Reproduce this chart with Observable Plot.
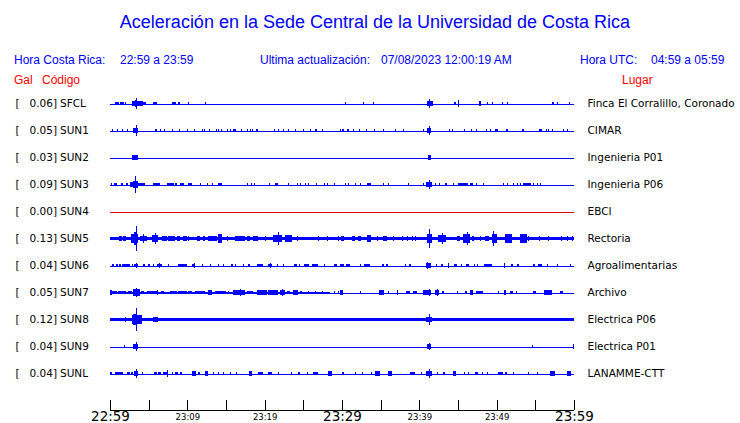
<!DOCTYPE html>
<html>
<head>
<meta charset="utf-8">
<script src="https://cdn.jsdelivr.net/npm/d3@7"></script>
<script src="https://cdn.jsdelivr.net/npm/@observablehq/plot@0.6"></script>
<style>
  html, body { margin: 0; padding: 0; background: #fff; }
  #wrap { position: relative; width: 740px; height: 423px; overflow: hidden; background: #fff; }
  .hd { position: absolute; font-family: "Liberation Sans", Arial, sans-serif; white-space: pre; line-height: 1; }
  .blue { color: #0000ff; }
  .red { color: #ff0000; }
  #wrap svg { display: block; background: transparent; }
</style>
</head>
<body>
<div id="wrap">
  <div id="plots"></div>
  <div class="hd blue" style="left:0;width:750px;text-align:center;top:12.5px;font-size:18px;">Aceleración en la Sede Central de la Universidad de Costa Rica</div>
  <div class="hd blue" style="left:14px;top:54px;font-size:12px;">Hora Costa Rica:</div>
  <div class="hd blue" style="left:120px;top:54px;font-size:12px;">22:59 a 23:59</div>
  <div class="hd blue" style="left:260px;top:54px;font-size:12px;">Ultima actualización:</div>
  <div class="hd blue" style="left:381px;top:54px;font-size:12px;">07/08/2023 12:00:19 AM</div>
  <div class="hd blue" style="left:580px;top:54px;font-size:12px;">Hora UTC:</div>
  <div class="hd blue" style="left:651px;top:54px;font-size:12px;">04:59 a 05:59</div>
  <div class="hd red" style="left:14px;top:74px;font-size:12px;">Gal</div>
  <div class="hd red" style="left:42px;top:74px;font-size:12px;">Código</div>
  <div class="hd red" style="left:622px;top:74px;font-size:12px;">Lugar</div>
</div>
<script>
// ---- station metadata ----
const codes  = ["SFCL","SUN1","SUN2","SUN3","SUN4","SUN5","SUN6","SUN7","SUN8","SUN9","SUNL"];
const peakGal = [0.06, 0.05, 0.03, 0.09, 0.00, 0.13, 0.04, 0.05, 0.12, 0.04, 0.04];
const places = ["Finca El Corralillo, Coronado","CIMAR","Ingenieria P01","Ingenieria P06","EBCI","Rectoria","Agroalimentarias","Archivo","Electrica P06","Electrica P01","LANAMME-CTT"];

// ---- time axis (minutes after 22:59 local) ----
const startTime = "2023-07-07T22:59:00Z";
const majorLabels = ["22:59","23:29","23:59"];
const minorLabels = ["23:09","23:19","23:39","23:49"];

// ---- traces: [start minute, end minute, half-amplitude in Gal] ----
const sfcl = [[0.65,1.16,0.014],[1.29,1.81,0.014],[1.98,1.98,0.016],[2.8,3.2,0.03],[3.2,3.5,0.04],[3.36,3.36,0.058],[3.5,4.3,0.026],[4.3,4.6,0.02],[5.6,6.03,0.016],[7.97,8.49,0.016],[8.75,9.09,0.016],[10.13,10.13,0.016],[12.28,12.28,0.016],[30.39,30.39,0.012],[32.76,32.76,0.016],[34.05,34.05,0.012],[41.03,41.72,0.022],[41.29,41.29,0.045],[44.48,44.7,0.016],[45.0,45.0,0.035],[47.76,47.93,0.032],[48.79,48.79,0.016],[49.44,49.44,0.016],[50.73,50.73,0.016],[51.29,51.29,0.012],[57.11,57.41,0.016],[57.76,57.76,0.016],[59.4,59.4,0.012]];
const sun1 = [[0.3,0.3,0.018],[0.86,0.86,0.015],[1.51,1.51,0.018],[2.24,2.24,0.015],[2.93,3.66,0.022],[3.32,3.32,0.057],[5.82,6.03,0.016],[6.47,6.47,0.018],[7.03,7.03,0.015],[7.97,7.97,0.018],[8.92,8.92,0.015],[9.91,9.91,0.018],[10.9,10.9,0.018],[11.85,11.85,0.018],[12.16,12.16,0.015],[12.84,12.84,0.015],[13.71,13.71,0.018],[14.0,14.0,0.015],[14.31,14.31,0.018],[15.09,15.09,0.018],[15.52,15.52,0.015],[15.95,16.25,0.016],[16.94,16.94,0.018],[17.67,17.67,0.018],[18.1,18.1,0.015],[18.32,18.32,0.018],[18.84,19.1,0.016],[21.2,21.2,0.018],[21.77,21.77,0.015],[22.41,22.41,0.018],[23.06,23.06,0.015],[23.92,23.92,0.018],[25.0,25.0,0.015],[25.86,25.86,0.018],[26.47,26.73,0.016],[27.46,27.46,0.015],[29.74,29.74,0.018],[29.96,30.26,0.016],[30.6,30.9,0.016],[31.46,31.46,0.018],[32.2,32.2,0.015],[33.1,33.1,0.018],[34.18,34.18,0.018],[35.34,35.34,0.018],[36.9,36.9,0.018],[37.93,37.93,0.018],[40.52,40.52,0.012],[40.95,41.46,0.022],[41.25,41.25,0.05],[43.88,43.88,0.018],[44.27,44.27,0.015],[45.82,45.82,0.018],[46.68,46.68,0.018],[47.33,47.33,0.012],[48.58,48.58,0.018],[49.14,49.14,0.015],[49.78,50.21,0.016],[51.16,51.51,0.018],[53.23,53.53,0.018],[55.52,55.82,0.018],[56.33,56.33,0.018],[56.68,56.68,0.015],[57.11,57.11,0.018],[58.62,58.62,0.018],[59.14,59.14,0.015]];
const sun2 = [[2.89,3.66,0.022],[3.2,3.4,0.028],[41.08,41.51,0.022]];
const sun3 = [[0.09,0.3,0.016],[0.52,0.95,0.016],[1.42,1.64,0.016],[2.03,2.28,0.018],[2.59,3.0,0.025],[3.0,3.6,0.035],[3.23,3.23,0.086],[3.6,4.53,0.018],[5.6,6.47,0.016],[7.33,8.28,0.016],[8.4,8.62,0.016],[9.05,9.61,0.016],[10.13,10.65,0.016],[11.64,11.64,0.016],[12.5,12.5,0.016],[13.15,13.15,0.016],[14.0,14.44,0.018],[17.67,17.67,0.016],[18.19,18.19,0.016],[18.66,18.66,0.016],[20.6,20.6,0.012],[21.34,21.68,0.016],[23.06,23.06,0.016],[24.14,24.14,0.016],[24.57,24.57,0.016],[25.22,25.22,0.016],[25.65,25.65,0.016],[26.6,26.6,0.014],[27.72,27.72,0.016],[28.1,28.1,0.012],[29.0,29.0,0.012],[30.39,30.39,0.012],[30.82,30.82,0.016],[31.68,31.68,0.012],[32.33,32.33,0.016],[33.19,33.71,0.016],[35.34,35.34,0.016],[35.9,35.9,0.012],[38.58,38.58,0.016],[40.52,40.52,0.016],[40.86,41.64,0.026],[41.25,41.25,0.045],[42.02,42.02,0.016],[42.54,42.54,0.016],[43.32,43.53,0.018],[44.4,44.4,0.016],[45.04,46.33,0.016],[46.55,46.9,0.016],[47.33,47.33,0.016],[48.27,48.27,0.012],[50.86,50.86,0.016],[51.29,51.29,0.016],[52.07,52.07,0.016],[52.58,52.58,0.016],[53.02,53.02,0.016],[53.45,54.4,0.016],[54.74,54.74,0.016],[55.17,55.17,0.016],[55.6,55.6,0.012]];
const sun4 = [];
const sun5 = [[0,60,0.018],[1.16,1.51,0.027],[1.72,2.03,0.027],[2.72,3.66,0.05],[3.1,3.5,0.07],[3.32,3.32,0.13],[3.88,4.74,0.032],[4.31,4.31,0.043],[5.39,6.25,0.04],[5.82,5.82,0.054],[6.68,7.33,0.027],[7.54,8.41,0.027],[8.62,9.05,0.027],[9.48,9.91,0.027],[10.13,10.13,0.027],[11.2,11.64,0.027],[12.07,12.28,0.027],[12.72,13.79,0.03],[14.0,14.44,0.043],[15.09,15.09,0.027],[16.16,17.46,0.03],[17.67,18.1,0.027],[18.53,19.18,0.032],[20.04,20.04,0.027],[21.12,22.2,0.038],[21.68,21.68,0.065],[22.63,23.49,0.038],[24.14,24.14,0.027],[26.94,26.94,0.022],[28.02,28.02,0.022],[29.53,29.53,0.022],[29.87,30.3,0.032],[31.25,31.68,0.03],[32.11,32.41,0.03],[33.27,33.71,0.038],[34.48,34.48,0.027],[35.26,35.86,0.03],[36.64,36.64,0.027],[37.71,37.71,0.027],[38.36,38.36,0.027],[39.01,39.01,0.027],[39.44,39.44,0.027],[40.95,41.6,0.05],[41.25,41.25,0.1],[42.46,43.45,0.04],[42.89,42.89,0.054],[44.83,45.26,0.03],[45.69,46.55,0.045],[46.12,46.12,0.072],[46.77,47.07,0.03],[47.84,47.84,0.027],[48.49,49.05,0.032],[49.35,50.0,0.045],[49.57,49.57,0.083],[51.08,51.94,0.05],[53.02,53.88,0.045],[54.09,54.09,0.027],[55.52,55.52,0.027],[56.68,56.68,0.027],[58.27,58.27,0.027],[59.05,59.05,0.027],[59.7,59.7,0.027]];
const sun6 = [[0.3,0.56,0.014],[0.73,0.99,0.014],[1.16,1.42,0.014],[1.59,2.59,0.014],[2.8,3.02,0.014],[3.15,3.66,0.02],[3.32,3.32,0.032],[4.31,4.53,0.014],[4.96,5.17,0.014],[5.52,5.73,0.014],[6.03,6.68,0.016],[6.38,6.38,0.027],[7.54,7.54,0.016],[8.84,9.91,0.014],[10.65,10.99,0.02],[10.8,10.8,0.027],[11.85,11.85,0.016],[12.93,12.93,0.016],[14.0,14.0,0.016],[14.57,14.57,0.016],[15.65,15.95,0.016],[16.16,16.16,0.016],[17.24,17.24,0.016],[17.8,18.15,0.016],[18.97,19.74,0.016],[20.39,20.91,0.018],[20.69,20.69,0.029],[21.55,21.55,0.016],[22.33,22.33,0.016],[23.79,24.22,0.018],[24.48,24.48,0.016],[25.13,25.73,0.016],[26.16,26.85,0.014],[27.72,27.72,0.016],[29.0,29.35,0.014],[29.74,30.26,0.014],[30.52,31.03,0.014],[32.33,32.33,0.012],[32.84,33.62,0.014],[35.13,35.43,0.014],[35.69,35.99,0.014],[38.15,38.15,0.016],[38.66,38.88,0.014],[40.86,41.46,0.022],[41.03,41.03,0.035],[42.11,42.11,0.016],[42.76,43.02,0.016],[43.75,43.75,0.029],[44.48,44.83,0.016],[45.39,45.39,0.016],[46.03,46.47,0.018],[47.07,47.07,0.016],[47.41,47.41,0.016],[48.4,49.35,0.016],[50.99,50.99,0.027],[51.81,52.15,0.016],[52.58,52.84,0.018],[54.74,55.0,0.016],[55.39,55.82,0.016],[56.46,56.46,0.016],[57.84,57.84,0.016],[59.48,59.48,0.016]];
const sun7 = [[0,28.5,0.01],[0,0.22,0.025],[0.3,0.86,0.02],[1.08,2.03,0.02],[2.28,2.89,0.02],[3.02,3.88,0.035],[3.32,3.32,0.048],[4.0,4.44,0.02],[4.74,6.25,0.02],[6.03,6.03,0.03],[6.59,7.03,0.018],[7.76,8.62,0.02],[8.75,9.91,0.02],[10.13,10.65,0.02],[10.99,12.28,0.02],[12.63,13.23,0.027],[13.58,14.96,0.02],[15.3,15.3,0.02],[15.95,17.46,0.027],[16.81,16.81,0.038],[17.67,18.53,0.02],[18.97,20.26,0.022],[20.47,21.77,0.025],[21.98,22.63,0.025],[22.2,22.2,0.04],[22.84,23.28,0.02],[23.71,24.27,0.027],[24.57,24.78,0.015],[25.65,25.65,0.015],[26.51,26.51,0.015],[27.37,27.37,0.015],[29.0,29.0,0.015],[29.53,29.53,0.015],[29.74,30.17,0.022],[32.33,32.33,0.012],[34.83,35.47,0.027],[35.09,35.09,0.032],[35.99,35.99,0.016],[37.07,37.28,0.027],[38.27,38.79,0.02],[39.14,39.65,0.02],[40.43,41.46,0.027],[41.2,41.2,0.035],[42.02,42.59,0.027],[42.3,42.3,0.035],[42.89,43.19,0.02],[44.83,44.83,0.016],[45.9,46.12,0.018],[46.55,46.98,0.029],[47.33,48.27,0.02],[50.21,50.21,0.016],[50.95,51.21,0.027],[51.72,52.15,0.02],[52.5,52.5,0.016],[54.74,55.09,0.02],[56.16,57.11,0.022],[56.46,56.46,0.032],[58.19,58.53,0.016]];
const sun8 = [[0,60,0.02],[1.94,1.94,0.025],[2.8,4.09,0.043],[3.0,3.5,0.06],[3.32,3.32,0.125],[5.6,6.16,0.03],[40.86,41.6,0.032],[41.25,41.25,0.06]];
const sun9 = [[1.85,1.85,0.018],[2.93,3.66,0.022],[3.32,3.32,0.046],[40.95,41.46,0.027],[41.25,41.25,0.035],[54.61,54.61,0.011],[59.91,59.91,0.022]];
const sunl = [[0,0.3,0.016],[0.65,1.72,0.016],[2.16,2.59,0.016],[2.72,3.02,0.016],[3.15,3.66,0.025],[3.32,3.32,0.046],[4.09,4.09,0.016],[5.73,6.03,0.016],[6.25,6.59,0.016],[6.9,7.54,0.016],[7.33,7.33,0.035],[7.97,7.97,0.016],[8.41,8.75,0.016],[9.05,9.35,0.016],[10.65,11.08,0.022],[11.42,11.64,0.016],[12.28,12.63,0.022],[13.36,13.36,0.016],[14.0,14.0,0.016],[14.66,14.66,0.016],[15.52,15.52,0.016],[16.29,16.29,0.016],[18.02,18.32,0.022],[19.09,19.83,0.016],[20.47,20.91,0.016],[21.77,21.77,0.016],[23.36,23.36,0.016],[24.35,24.57,0.016],[25.43,25.65,0.016],[26.29,26.94,0.016],[28.23,28.66,0.022],[29.96,30.3,0.016],[31.68,31.68,0.012],[32.54,32.54,0.016],[33.71,33.71,0.012],[34.27,34.91,0.022],[35.99,36.42,0.022],[38.79,39.44,0.016],[40.21,40.21,0.016],[40.86,41.6,0.025],[41.25,41.25,0.046],[42.24,42.24,0.016],[43.1,43.32,0.016],[44.31,44.74,0.022],[45.77,45.77,0.016],[46.33,46.33,0.016],[47.2,47.54,0.016],[48.06,48.06,0.016],[48.71,48.71,0.016],[50.13,50.86,0.016],[51.08,51.38,0.016],[52.15,52.15,0.016],[54.01,54.01,0.016],[55.17,55.17,0.016],[56.9,57.54,0.022],[59.05,59.57,0.027]];

const traceEvents = [sfcl, sun1, sun2, sun3, sun4, sun5, sun6, sun7, sun8, sun9, sunl];

// ---- build tables ----
const t0 = new Date(startTime).getTime();
const toDate = m => new Date(t0 + m * 60000);
const labelDate = s => { const [h, mm] = s.split(":").map(Number); const d = new Date(startTime); d.setUTCHours(h, mm, 0, 0); return d; };
const events = codes.flatMap((code, i) => traceEvents[i].map(([a, b, amp]) => ({code, a: toDate(a), b: toDate(b), amp, block: b > a})));
const stations = codes.map((code, i) => ({code, gal: peakGal[i], place: places[i]}));
const colorOf = code => code === "SUN4" ? "#dd0000" : "#0000ff";
const xDomain = [toDate(0), toDate(60)];
const font = "DejaVu Sans, sans-serif";
const crisp = "crispEdges";

const main = Plot.plot({
  width: 740, height: 387,
  marginTop: 90, marginBottom: 0, marginLeft: 110, marginRight: 166,
  style: {background: "transparent", fontFamily: font},
  x: {type: "utc", domain: xDomain, axis: null},
  y: {domain: [-0.145, 0.145], axis: null},
  fy: {domain: codes, padding: 0, axis: null},
  marks: [
    Plot.ruleY(stations, {fy: "code", y: 0, stroke: d => colorOf(d.code), strokeWidth: 1, shapeRendering: crisp}),
    Plot.rect(events.filter(d => d.block), {fy: "code", x1: "a", x2: "b", y1: d => -d.amp, y2: d => d.amp, fill: "#0000ff", shapeRendering: crisp}),
    Plot.ruleX(events, {fy: "code", x: "a", y1: d => -d.amp, y2: d => d.amp, stroke: "#0000ff", strokeWidth: 1, shapeRendering: crisp}),
    Plot.text(stations, {fy: "code", frameAnchor: "left", dx: -95, textAnchor: "start", text: () => "[", fontSize: 10.5, fill: "black"}),
    Plot.text(stations, {fy: "code", frameAnchor: "left", dx: -53.5, textAnchor: "end", text: d => d.gal.toFixed(2) + "]", fontSize: 10.5, fill: "black"}),
    Plot.text(stations, {fy: "code", frameAnchor: "left", dx: -50.5, textAnchor: "start", text: "code", fontSize: 10.5, fill: "black"}),
    Plot.text(stations, {fy: "code", frameAnchor: "right", dx: 13, textAnchor: "start", text: "place", fontSize: 10.5, fill: "black"})
  ]
});

const tickDates = d3.range(0, 61, 5).map(toDate);
const axis = Plot.plot({
  width: 740, height: 36,
  marginTop: 13, marginBottom: 13.5, marginLeft: 110, marginRight: 166,
  style: {background: "transparent", fontFamily: font, overflow: "visible"},
  x: {type: "utc", domain: xDomain, axis: null},
  y: {domain: [0, 1], axis: null},
  marks: [
    Plot.tickX(tickDates, {x: d => d, stroke: "black", strokeWidth: 1, shapeRendering: crisp}),
    Plot.ruleY([0], {stroke: "black", strokeWidth: 1, shapeRendering: crisp}),
    Plot.text(majorLabels, {x: labelDate, frameAnchor: "bottom", lineAnchor: "top", dy: 1.5, fontSize: 13.5, text: d => d, fill: "black"}),
    Plot.text(minorLabels, {x: labelDate, frameAnchor: "bottom", lineAnchor: "top", dy: 4, fontSize: 8.5, text: d => d, fill: "black"})
  ]
});

const holder = document.getElementById("plots");
holder.appendChild(main);
holder.appendChild(axis);
</script>
</body>
</html>
